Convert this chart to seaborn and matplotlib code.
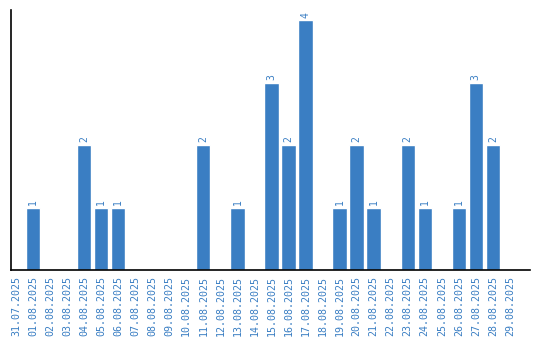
import matplotlib
matplotlib.use("Agg")
import matplotlib.pyplot as plt
import seaborn as sns
import pandas as pd

dates = ["31.07.2025", "01.08.2025", "02.08.2025", "03.08.2025", "04.08.2025",
         "05.08.2025", "06.08.2025", "07.08.2025", "08.08.2025", "09.08.2025",
         "10.08.2025", "11.08.2025", "12.08.2025", "13.08.2025", "14.08.2025",
         "15.08.2025", "16.08.2025", "17.08.2025", "18.08.2025", "19.08.2025",
         "20.08.2025", "21.08.2025", "22.08.2025", "23.08.2025", "24.08.2025",
         "25.08.2025", "26.08.2025", "27.08.2025", "28.08.2025", "29.08.2025"]
counts = [0, 1, 0, 0, 2, 1, 1, 0, 0, 0,
          0, 2, 0, 1, 0, 3, 2, 4, 0, 1,
          2, 1, 0, 2, 1, 0, 1, 3, 2, 0]

df = pd.DataFrame({"date": dates, "count": counts})
color = "#3a7ec3"

sns.set_style("white")
plt.rcParams['font.family'] = ['DejaVu Sans Mono', 'DejaVu Sans']

fig = plt.figure(figsize=(5.4, 3.4), dpi=100)
ax = fig.add_axes([10.5/540, 1 - 270/340, 519.5/540, 260/340])
sns.barplot(data=df, x="date", y="count", color=color, saturation=1, width=0.84, ax=ax)

for i, v in enumerate(counts):
    if v > 0:
        ax.text(i, v + 0.04, str(v), rotation=90, ha="center", va="bottom",
                color=color, fontsize=7)

ax.set_xlim(-0.32, 30.18)
ax.set_ylim(0, 4.16)
ax.set_xlabel("")
ax.set_ylabel("")
ax.set_yticks([])
ax.tick_params(axis="x", length=0, pad=4, labelsize=7.2, labelcolor=color)
for lab in ax.get_xticklabels():
    lab.set_rotation(90)
for s in ["top", "right"]:
    ax.spines[s].set_visible(False)
for s in ["left", "bottom"]:
    ax.spines[s].set_color("black")
    ax.spines[s].set_linewidth(1.2)

fig.savefig("out.png", dpi=100)
